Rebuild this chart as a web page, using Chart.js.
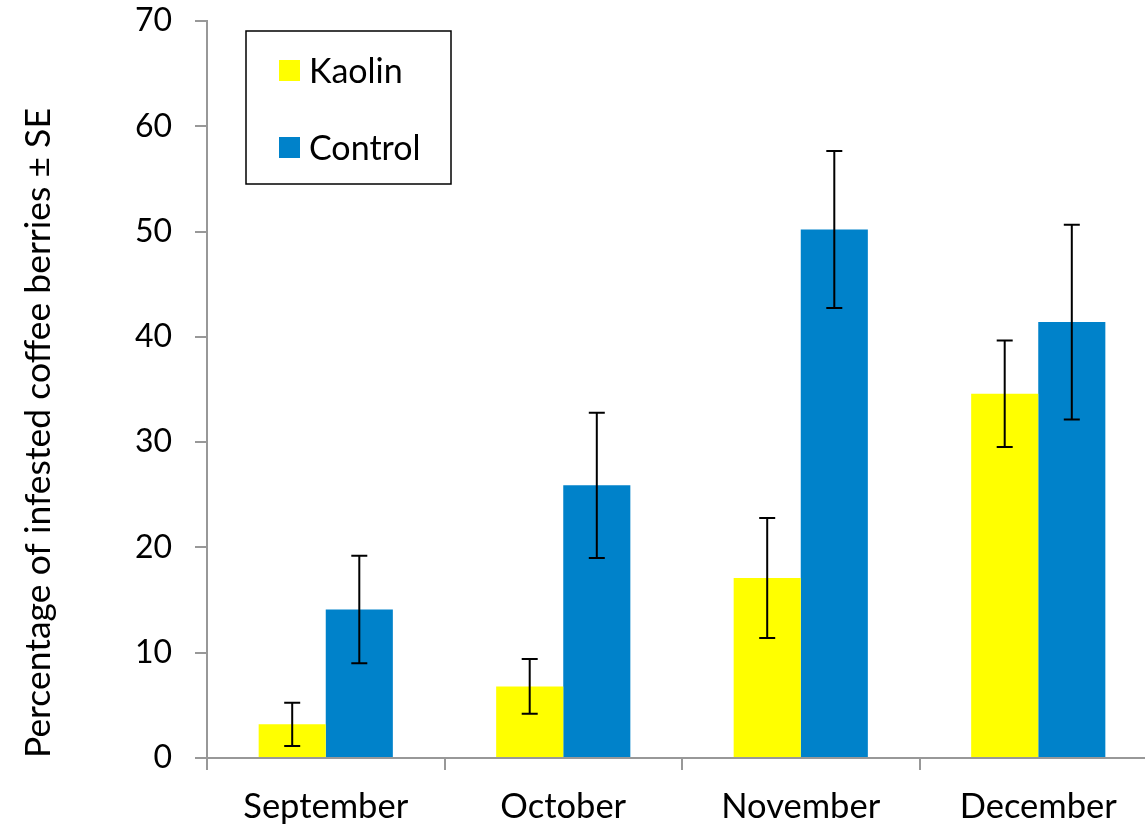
<!DOCTYPE html>
<html>
<head>
<meta charset="utf-8">
<script src="https://cdn.jsdelivr.net/npm/chart.js@4.4.1/dist/chart.umd.min.js"></script>
<style>
  html, body { margin: 0; padding: 0; background: #fff; overflow: hidden; }
  #wrap { position: relative; width: 1160px; height: 858px; }
</style>
</head>
<body>
<div id="wrap"><canvas id="chart"></canvas></div>
<script>
const months = ['September', 'October', 'November', 'December'];
const kaolin = [3.2, 6.8, 17.1, 34.6];
const kaolinSE = [2.05, 2.6, 5.7, 5.05];
const control = [14.1, 25.9, 50.2, 41.4];
const controlSE = [5.1, 6.9, 7.45, 9.25];
const yTicks = [0, 10, 20, 30, 40, 50, 60, 70];

const FONT = 'Lato, "Open Sans", sans-serif';
const AXIS_GRAY = '#989898';

// barras de error (± SE)
const errorBars = {
    id: 'errorBars',
    afterDatasetsDraw(chart) {
        const ctx = chart.ctx;
        const y = chart.scales.y;
        ctx.save();
        ctx.strokeStyle = '#000';
        ctx.lineWidth = 2;
        chart.data.datasets.forEach((ds, di) => {
            const meta = chart.getDatasetMeta(di);
            meta.data.forEach((bar, i) => {
                const v = ds.data[i], e = ds.se[i];
                const yTop = y.getPixelForValue(v + e);
                const yBot = y.getPixelForValue(v - e);
                ctx.beginPath();
                ctx.moveTo(bar.x, yTop); ctx.lineTo(bar.x, yBot);
                ctx.moveTo(bar.x - 8, yTop); ctx.lineTo(bar.x + 8, yTop);
                ctx.moveTo(bar.x - 8, yBot); ctx.lineTo(bar.x + 8, yBot);
                ctx.stroke();
            });
        });
        ctx.restore();
    }
};

// leyenda con recuadro dentro del area
const boxLegend = {
    id: 'boxLegend',
    afterDraw(chart) {
        const ctx = chart.ctx;
        const a = chart.chartArea;
        const bx = a.left + 39, by = a.top + 10, bw = 205, bh = 153;
        ctx.save();
        ctx.strokeStyle = '#000';
        ctx.lineWidth = 1.5;
        ctx.strokeRect(bx, by, bw, bh);
        ctx.font = '34px ' + FONT;
        ctx.textBaseline = 'middle';
        chart.data.datasets.forEach((ds, i) => {
            const rowY = by + 39 + i * 77;
            ctx.fillStyle = ds.backgroundColor;
            ctx.fillRect(bx + 33, rowY - 10, 21, 21);
            ctx.fillStyle = '#000';
            ctx.fillText(ds.label, bx + 63, rowY + 2);
        });
        ctx.restore();
    }
};

new Chart(document.getElementById('chart'), {
    type: 'bar',
    data: {
        labels: months,
        datasets: [
            { label: 'Kaolin', data: kaolin, se: kaolinSE, backgroundColor: '#ffff00' },
            { label: 'Control', data: control, se: controlSE, backgroundColor: '#0082ca' }
        ]
    },
    options: {
        responsive: true,
        maintainAspectRatio: false,
        animation: false,
        layout: { padding: { left: 0, top: 21, right: 3, bottom: 0 } },
        datasets: { bar: { barPercentage: 1.0, categoryPercentage: 0.565 } },
        plugins: {
            legend: { display: false },
            tooltip: { enabled: false }
        },
        scales: {
            x: {
                afterFit: (s) => { s.height = 100; s.paddingTop = 0; },
                grid: { drawOnChartArea: false, drawTicks: true, tickLength: 12, color: AXIS_GRAY, lineWidth: 2 },
                border: { color: AXIS_GRAY, width: 2 },
                ticks: { color: '#000', font: { family: FONT, size: 34.5 }, padding: 16, maxRotation: 0 }
            },
            y: {
                min: 0,
                max: 70,
                afterFit: (s) => { s.width = 207; s.paddingTop = 0; s.paddingBottom = 0; },
                afterBuildTicks: (s) => { s.ticks = yTicks.map(v => ({ value: v })); },
                grid: { drawOnChartArea: false, drawTicks: true, tickLength: 12, color: AXIS_GRAY, lineWidth: 2 },
                border: { color: AXIS_GRAY, width: 2 },
                ticks: { color: '#000', font: { family: FONT, size: 32 }, padding: 23 },
                title: {
                    display: true,
                    text: 'Percentage of infested coffee berries ± SE',
                    align: 'start',
                    color: '#000',
                    font: { family: FONT, size: 35.5 },
                    padding: { top: 17, bottom: 0 }
                }
            }
        }
    },
    plugins: [errorBars, boxLegend]
});
</script>
</body>
</html>
